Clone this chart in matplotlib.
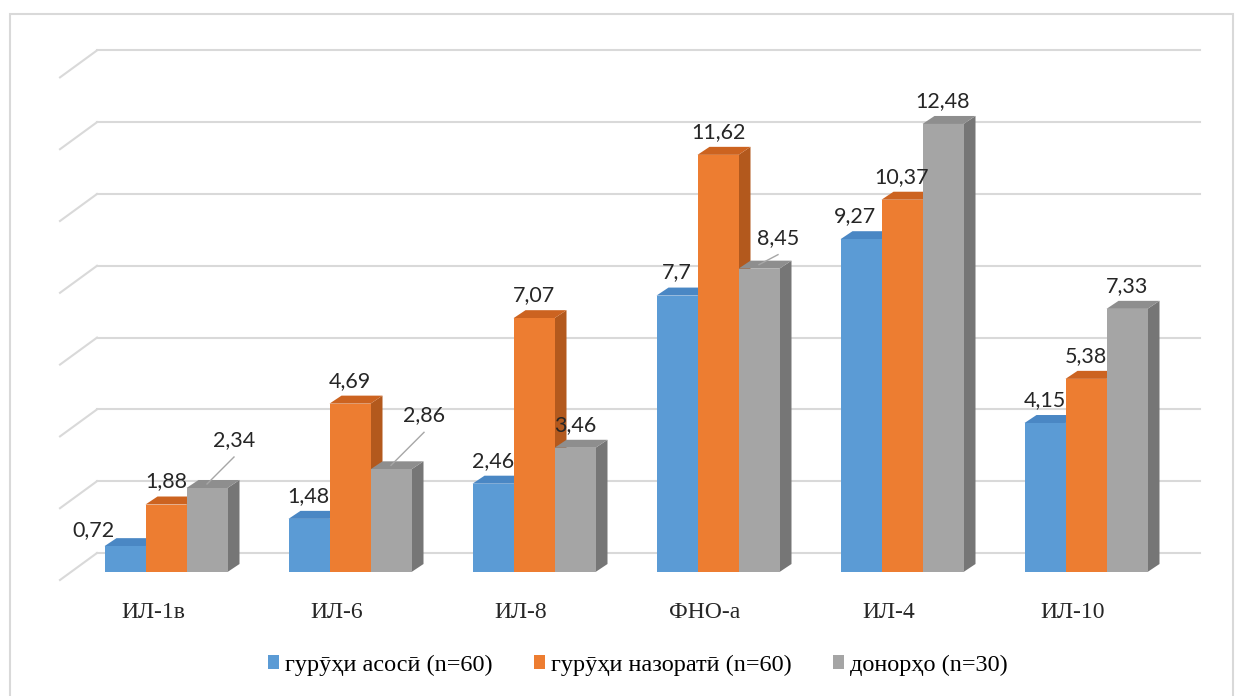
import matplotlib
matplotlib.use("Agg")
import matplotlib.pyplot as plt
from matplotlib.patches import Polygon, Patch, Rectangle
import numpy as np

categories = ["ИЛ-1в", "ИЛ-6", "ИЛ-8", "ФНО-а", "ИЛ-4", "ИЛ-10"]
series_names = ["гурӯҳи асосӣ (n=60)", "гурӯҳи назоратӣ (n=60)", "донорҳо (n=30)"]
main_group = [0.72, 1.48, 2.46, 7.7, 9.27, 4.15]
control_group = [1.88, 4.69, 7.07, 11.62, 10.37, 5.38]
donors = [2.34, 2.86, 3.46, 8.45, 12.48, 7.33]
series = [main_group, control_group, donors]
grid_values = np.arange(0, 15, 2)

SERIF = "Liberation Serif"

# front / top / side shades for the 3d boxes
front_cols = ["#5B9BD5", "#ED7D31", "#A5A5A5"]
top_cols = ["#4A87C4", "#CC6320", "#8E8E8E"]
side_cols = ["#3F75AA", "#B3591D", "#767676"]

W, H = 1245, 696
PX_X = 184.0   # pixels per category
PX_Y = 35.9    # pixels per unit of value
X0, Y0 = 166.0, 572.0


def dx(p):
    return p / PX_X


def dy(p):
    return p / PX_Y


fig = plt.figure(figsize=(W / 100, H / 100), dpi=100)
ax = fig.add_axes([0, 0, 1, 1])
ax.set_xlim(-X0 / PX_X, (W - X0) / PX_X)
ax.set_ylim(-(H - Y0) / PX_Y, Y0 / PX_Y)
ax.axis("off")

# outer frame
fig.patches.append(Rectangle((10 / W, -0.01), 1223 / W, (H - 14) / H + 0.01,
                             transform=fig.transFigure, fill=False,
                             edgecolor="#d9d9d9", lw=1.5))

# back wall + side wall gridlines
back_l, back_r = dx(97 - X0), dx(1200 - X0)
wall_off = dy(19)
for v in grid_values:
    yb = v + wall_off
    ax.plot([back_l, back_r], [yb, yb], color="#d9d9d9", lw=1.5, zorder=1)
    ax.plot([dx(60 - X0), back_l], [yb - dy(27), yb], color="#d9d9d9",
            lw=1.5, zorder=1)

bw = dx(41)
ddx, ddy = dx(12), dy(8)
x = np.arange(len(categories))

# value label nudges in pixels (right, up) and whether a leader line is drawn
nudges = {
    (0, 0): (-32, -7, False),
    (1, 0): (-1, 0, False),
    (4, 0): (-6, 0, False),
    (0, 2): (27, 25, True),
    (1, 2): (33, 31, True),
    (3, 2): (19, 8, True),
}

z = 3
for i in range(len(categories)):
    for k, vals in enumerate(series):
        v = vals[i]
        xl = x[i] + (k - 1.5) * bw
        xr = xl + bw
        side = Polygon([(xr, 0), (xr, v), (xr + ddx, v + ddy), (xr + ddx, ddy)],
                       closed=True, facecolor=side_cols[k], edgecolor="none",
                       zorder=z)
        top = Polygon([(xl, v), (xr, v), (xr + ddx, v + ddy), (xl + ddx, v + ddy)],
                      closed=True, facecolor=top_cols[k], edgecolor="none",
                      zorder=z)
        ax.add_patch(side)
        ax.add_patch(top)
        ax.bar(xl, v, width=bw, align="edge", color=front_cols[k], zorder=z,
               linewidth=0)
        z += 1

        cx = xl + bw / 2
        nx, ny, leader = nudges.get((i, k), (0, 0, False))
        lx, ly = cx + dx(nx), v + dy(23) + dy(ny)
        ax.text(lx, ly, f"{v:g}".replace(".", ","), ha="center", va="center",
                fontsize=15.5, family=["Lato", "DejaVu Sans"], color="#262626",
                zorder=50)
        if leader:
            ax.plot([lx, cx], [ly - dy(17), v + ddy / 2], color="#a6a6a6",
                    lw=1, zorder=49)

# category labels along the front edge
for i, name in enumerate(categories):
    ax.text(x[i] - dx(13), -dy(40), name, ha="center", va="center",
            fontsize=17, family=SERIF, color="#262626")

handles = [Patch(facecolor=c, edgecolor="none") for c in front_cols]
fig.legend(handles, series_names, loc="center", bbox_to_anchor=(638 / W, 1 - 665 / H),
           ncol=3, frameon=False, handlelength=0.45, handleheight=0.55,
           handletextpad=0.25, columnspacing=1.7,
           prop={"family": SERIF, "size": 17.5})

fig.savefig("out.png", dpi=100, facecolor="white")
